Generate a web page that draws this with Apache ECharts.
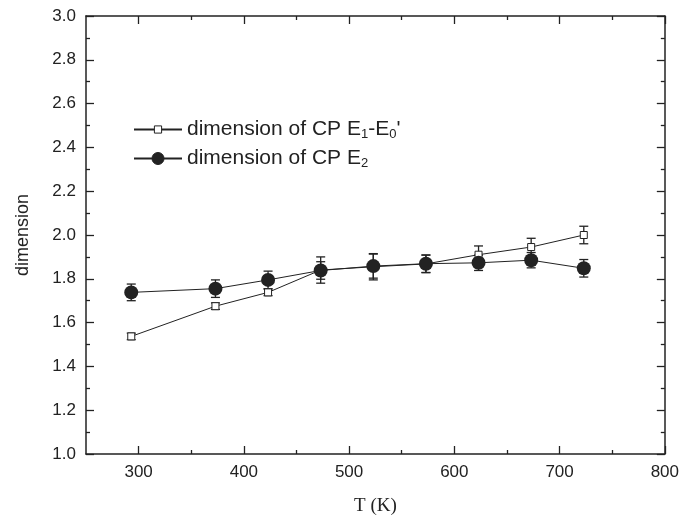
<html>
<head>
<meta charset="UTF-8">
<title>dimension vs T</title>
<style type="text/css">
  html, body { margin: 0; padding: 0; background: #fff; }
  #main { width: 682px; height: 521px; }
</style>
</head>
<body>
<div id="main"></div>
<script src="https://cdn.jsdelivr.net/npm/echarts@6/dist/echarts.min.js"></script>
<script type="text/javascript">
// data
var temps = [293, 373, 423, 473, 523, 573, 623, 673, 723];
var e1Values = [1.537, 1.675, 1.738, 1.84, 1.855, 1.868, 1.91, 1.945, 2.0];
var e1Errors = [0.015, 0.015, 0.015, 0.06, 0.06, 0.04, 0.04, 0.04, 0.04];
var e2Values = [1.738, 1.755, 1.795, 1.838, 1.858, 1.869, 1.873, 1.885, 1.848];
var e2Errors = [0.038, 0.04, 0.04, 0.04, 0.055, 0.04, 0.035, 0.035, 0.04];
var xLabels = [300, 400, 500, 600, 700, 800];
var xMinor = [350, 450, 550, 650, 750];

var ink = '#222';
var sans = 'Liberation Sans, Arial';

function pairs(xs, ys) {
    return xs.map(function (x, i) { return [x, ys[i]]; });
}
function errRows(xs, ys, es) {
    return xs.map(function (x, i) { return [x, ys[i] - es[i], ys[i] + es[i]]; });
}

function errBar(params, api) {
    var lo = api.coord([api.value(0), api.value(1)]);
    var hi = api.coord([api.value(0), api.value(2)]);
    var w = 4.5;
    var st = { stroke: ink, lineWidth: 1.3 };
    return {
        type: 'group',
        children: [
            { type: 'line', shape: { x1: lo[0], y1: lo[1], x2: hi[0], y2: hi[1] }, style: st },
            { type: 'line', shape: { x1: lo[0] - w, y1: lo[1], x2: lo[0] + w, y2: lo[1] }, style: st },
            { type: 'line', shape: { x1: hi[0] - w, y1: hi[1], x2: hi[0] + w, y2: hi[1] }, style: st }
        ]
    };
}

function xAxisDef(pos, ticks, len, labels, line) {
    return {
        type: 'value', position: pos, min: 250, max: 800, interval: 50,
        axisLine: { show: line, onZero: false, lineStyle: { color: ink, width: 1.5 } },
        axisTick: { show: true, inside: true, length: len, customValues: ticks,
                    lineStyle: { color: ink, width: 1.3 } },
        axisLabel: { show: labels, customValues: xLabels, margin: 10,
                     color: ink, fontSize: 17, fontFamily: sans },
        splitLine: { show: false }
    };
}

function yAxisDef(pos, labels) {
    return {
        type: 'value', position: pos, min: 1.0, max: 3.0, interval: 0.2,
        axisLine: { show: true, onZero: false, lineStyle: { color: ink, width: 1.5 } },
        axisTick: { show: true, inside: true, length: 8, lineStyle: { color: ink, width: 1.3 } },
        minorTick: { show: true, splitNumber: 2, length: 4, lineStyle: { color: ink, width: 1.3 } },
        axisLabel: { show: labels, margin: 10, color: ink, fontSize: 17, fontFamily: sans,
                     formatter: function (v) { return v.toFixed(1); } },
        splitLine: { show: false }
    };
}

var xBottom = xAxisDef('bottom', xLabels, 8, true, true);
xBottom.name = 'T (K)';
xBottom.nameLocation = 'middle';
xBottom.nameGap = 43;
xBottom.nameTextStyle = { color: ink, fontSize: 19, fontFamily: 'Liberation Serif, Times New Roman' };

var yLeft = yAxisDef('left', true);
yLeft.name = 'dimension';
yLeft.nameLocation = 'middle';
yLeft.nameGap = 54;
yLeft.nameTextStyle = { color: ink, fontSize: 18, fontFamily: sans };

var rich = {
    a: { fontSize: 21, color: ink, fontFamily: sans, lineHeight: 22 },
    s: { fontSize: 13, color: ink, fontFamily: sans, lineHeight: 2, verticalAlign: 'bottom' }
};

function legendFor(name, top, h) {
    return {
        orient: 'vertical', left: 128, top: top, itemWidth: 48, itemHeight: h, itemGap: 0,
        data: [name],
        itemStyle: { borderWidth: 1 },
        formatter: function (n) {
            return n === 'e1'
                ? '{a|dimension of CP E}{s|1}{a|-E}{s|0}{a|\'}'
                : '{a|dimension of CP E}{s|2}';
        },
        textStyle: { rich: rich }
    };
}

var option = {
    animation: false,
    backgroundColor: '#fff',
    grid: { left: 86, right: 16, top: 16, bottom: 63 },
    legend: [legendFor('e1', 114, 9), legendFor('e2', 143, 15)],
    xAxis: [
        xBottom,
        xAxisDef('bottom', xMinor, 4, false, false),
        xAxisDef('top', xLabels, 8, false, true),
        xAxisDef('top', xMinor, 4, false, false)
    ],
    yAxis: [yLeft, yAxisDef('right', false)],
    series: [
        {
            type: 'custom', renderItem: errBar, data: errRows(temps, e1Values, e1Errors),
            encode: { x: 0, y: [1, 2] }, silent: true, z: 1
        },
        {
            type: 'custom', renderItem: errBar, data: errRows(temps, e2Values, e2Errors),
            encode: { x: 0, y: [1, 2] }, silent: true, z: 1
        },
        {
            name: 'e1', type: 'line', data: pairs(temps, e1Values),
            symbol: 'rect', symbolSize: 7,
            lineStyle: { color: ink, width: 1 },
            itemStyle: { color: '#fff', borderColor: ink, borderWidth: 1 },
            z: 2
        },
        {
            name: 'e2', type: 'line', data: pairs(temps, e2Values),
            symbol: 'circle', symbolSize: 14,
            lineStyle: { color: ink, width: 1 },
            itemStyle: { color: ink, borderColor: ink, borderWidth: 0 },
            z: 3
        }
    ]
};

var myChart = echarts.init(document.getElementById('main'));
myChart.setOption(option);
</script>
</body>
</html>
